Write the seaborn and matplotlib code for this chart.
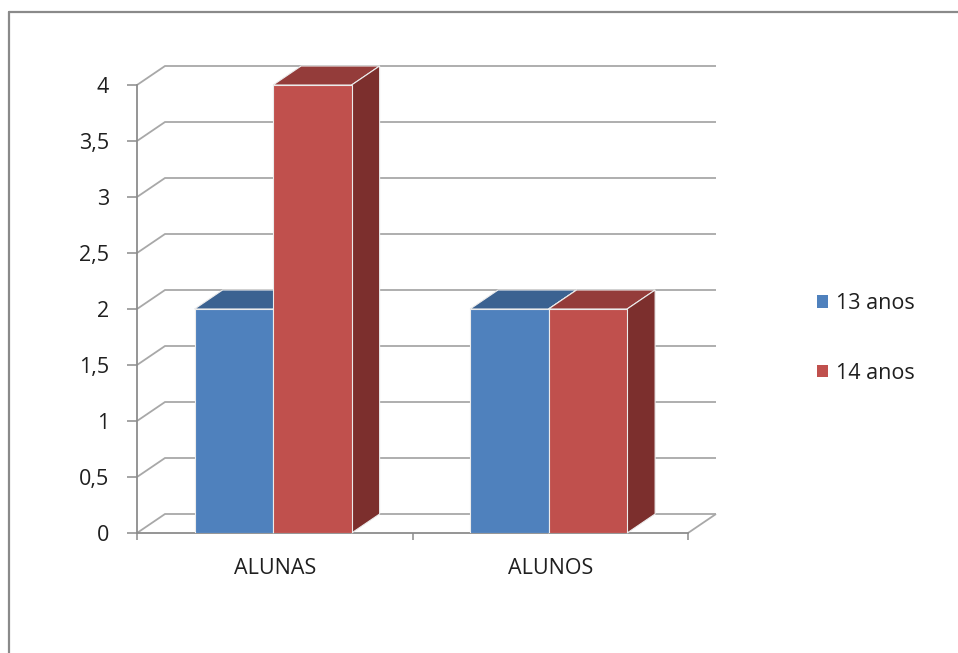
import matplotlib
matplotlib.use("Agg")
import matplotlib.pyplot as plt
import numpy as np
import pandas as pd
import seaborn as sns
from matplotlib.patches import Polygon, Patch
from matplotlib.lines import Line2D

# Dados
categorias = ["ALUNAS", "ALUNOS"]
series = ["13 anos", "14 anos"]
valores_13 = [2, 2]
valores_14 = [4, 2]
yticks = [0, 0.5, 1, 1.5, 2, 2.5, 3, 3.5, 4]
ytick_labels = ["0", "0,5", "1", "1,5", "2", "2,5", "3", "3,5", "4"]

df = pd.DataFrame({
    "grupo": categorias * 2,
    "idade": [series[0]] * len(categorias) + [series[1]] * len(categorias),
    "valor": valores_13 + valores_14,
})

cor_frente = {"13 anos": "#4F81BD", "14 anos": "#C0504D"}
cor_topo = {"13 anos": "#3B6291", "14 anos": "#943C3A"}
cor_lado = {"13 anos": "#2F4E75", "14 anos": "#7C2F2D"}
cor_borda = "#ececec"
cor_grade = "#a8a8a8"
cor_eixo = "#8c8c8c"
cor_texto = "#1f1f1f"

sns.set_theme(style="white")
plt.rcParams["font.family"] = ["Open Sans", "DejaVu Sans"]

W, H = 958, 653
fig = plt.figure(figsize=(W / 100, H / 100), dpi=100)
# área do plano frontal do gráfico (em pixels: x 137..688, y 85..533)
ax = fig.add_axes([137 / W, (H - 533) / H, 551 / W, 448 / H])
ax.set_facecolor("none")

sns.barplot(data=df, x="grupo", y="valor", hue="idade", hue_order=series,
            palette=cor_frente, width=0.57, saturation=1, legend=False,
            edgecolor=cor_borda, linewidth=0.8, ax=ax)
ax.set_xlim(-0.5, 1.5)
ax.set_ylim(0, 4)

# profundidade da perspectiva (pixels -> unidades de dados)
prof_px = (28, 19)
dx = prof_px[0] * (ax.get_xlim()[1] - ax.get_xlim()[0]) / 551
dy = prof_px[1] * (ax.get_ylim()[1] - ax.get_ylim()[0]) / 448

# parede do fundo, parede lateral e piso
grade = dict(color=cor_grade, lw=1.3, clip_on=False, zorder=1,
             solid_capstyle="butt", solid_joinstyle="miter")
x_esq, x_dir = ax.get_xlim()
for v in yticks:
    ax.plot([x_esq, x_esq + dx, x_dir + dx], [v, v + dy, v + dy], **grade)
ax.plot([x_dir, x_dir + dx], [0, dy], **grade)

# faces superior e lateral de cada coluna, pintadas da esquerda para a direita
barras = []
for serie, cont in zip(series, ax.containers):
    for rect in cont:
        barras.append((rect.get_x(), serie, rect))
barras.sort(key=lambda b: b[0])
for i, (x0, serie, rect) in enumerate(barras):
    rect.set_x(x0 - 0.006)
    x0 = rect.get_x()
    w = rect.get_width()
    h = rect.get_height()
    x1 = x0 + w
    base = 3 + i
    rect.set_zorder(base + 0.5)
    topo = Polygon([(x0, h), (x1, h), (x1 + dx, h + dy), (x0 + dx, h + dy)],
                   closed=True, facecolor=cor_topo[serie], edgecolor=cor_borda,
                   lw=0.8, zorder=base, clip_on=False)
    lado = Polygon([(x1, 0), (x1 + dx, dy), (x1 + dx, h + dy), (x1, h)],
                   closed=True, facecolor=cor_lado[serie], edgecolor=cor_borda,
                   lw=0.8, zorder=base, clip_on=False)
    ax.add_patch(topo)
    ax.add_patch(lado)

# eixos
for s in ["top", "right"]:
    ax.spines[s].set_visible(False)
for s in ["left", "bottom"]:
    ax.spines[s].set_color(cor_eixo)
    ax.spines[s].set_linewidth(1.3)
    ax.spines[s].set_zorder(2)

ax.set_yticks(yticks)
ax.set_yticklabels(ytick_labels)
ax.set_xticks(range(len(categorias)))
ax.set_xticklabels(categorias)
ax.set_xticks([-0.5, 0.5, 1.5], minor=True)
ax.tick_params(axis="y", left=True, length=7.2, width=1.1, color=cor_eixo,
               pad=13, labelsize=15.5, labelcolor=cor_texto)
ax.tick_params(axis="x", which="major", length=0, pad=18, labelsize=15.5,
               labelcolor=cor_texto)
ax.tick_params(axis="x", which="minor", bottom=True, length=5, width=1.1,
               color=cor_eixo)
ax.set_xlabel("")
ax.set_ylabel("")

# legenda
alcas = [Patch(facecolor=cor_frente[s], edgecolor="none", label=s) for s in series]
fig.legend(handles=alcas, loc="center left", bbox_to_anchor=(817 / W, 1 - 338.5 / H),
           frameon=False, handlelength=0.5, handleheight=0.5, handletextpad=0.4,
           labelspacing=2.26, borderpad=0, borderaxespad=0, fontsize=15.5,
           labelcolor=cor_texto)

# moldura da área do gráfico
fig.add_artist(Line2D([9 / W, 9 / W], [0, 1 - 12 / H], transform=fig.transFigure,
                      color="#8a8a8a", lw=1.6))
fig.add_artist(Line2D([9 / W, 1], [1 - 12 / H, 1 - 12 / H], transform=fig.transFigure,
                      color="#8a8a8a", lw=1.6))

fig.savefig("out.png", dpi=100, facecolor="white")
